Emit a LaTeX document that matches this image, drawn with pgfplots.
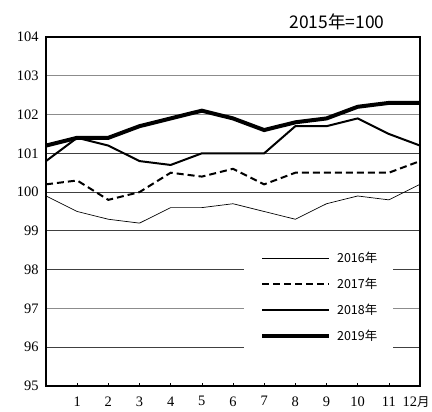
\documentclass[border=0pt]{standalone}
\usepackage{pgfplots}
\pgfplotsset{compat=1.18}
\usepackage{fontspec}
\setmainfont{Liberation Serif}
\newfontfamily\cjk{Noto Sans CJK JP}
\begin{document}
\begin{tikzpicture}
\begin{axis}[
  scale only axis, width=374bp, height=349bp,
  xmin=0, xmax=12, ymin=95, ymax=104,
  ytick={95,96,97,98,99,100,101,102,103,104},
  xtick={1,2,3,4,5,6,7,8,9,10,11,12},
  xticklabels={1,2,3,4,5,6,7,8,9,10,11,{\hspace{-8bp}12{\cjk\fontsize{12.5}{12.5}\selectfont 月}}},
  /pgf/number format/assume math mode=true,
  ticklabel style={font=\fontsize{14.5}{14.5}\selectfont},
  yticklabel style={xshift=-4bp},
  xticklabel style={yshift=-7bp},
  ytick style={draw=none},
  xtick pos=bottom, tick align=inside, major tick length=3bp,
  xtick style={black, line width=0.6bp},
  axis line style={line width=2.6bp},
  axis on top,
  clip=true,
  legend style={at={(axis cs:6.35,98.64)}, anchor=north west, draw=none, fill=white,
    font=\cjk\fontsize{12.5}{12.5}\selectfont, inner xsep=16bp, inner ysep=8bp,
    row sep=16bp, nodes={inner sep=0pt, text height=9bp, text depth=1bp},
    /tikz/every odd column/.append style={column sep=6bp}},
  legend cell align=left,
  legend image code/.code={\draw[#1] (0bp,0bp) -- (67bp,0bp);},
]
\draw[black!45, line width=0.9bp] (axis cs:0,103) -- (axis cs:12,103);
\draw[black!45, line width=0.9bp] (axis cs:0,102) -- (axis cs:12,102);
\draw[black!75, line width=0.9bp] (axis cs:0,101) -- (axis cs:12,101);
\draw[black!75, line width=0.9bp] (axis cs:0,100) -- (axis cs:12,100);
\draw[black!75, line width=0.9bp] (axis cs:0,99) -- (axis cs:12,99);
\draw[black!75, line width=0.9bp] (axis cs:0,98) -- (axis cs:12,98);
\draw[black!45, line width=0.9bp] (axis cs:0,97) -- (axis cs:12,97);
\draw[black!75, line width=0.9bp] (axis cs:0,96) -- (axis cs:12,96);
\addplot[black, line width=0.7bp] coordinates {(0,99.9)(1,99.5)(2,99.3)(3,99.2)(4,99.6)(5,99.6)(6,99.7)(7,99.5)(8,99.3)(9,99.7)(10,99.9)(11,99.8)(12,100.2)};
\addlegendentry{2016年}
\addplot[black, line width=2bp, dash pattern=on 7bp off 4bp] coordinates {(0,100.2)(1,100.3)(2,99.8)(3,100.0)(4,100.5)(5,100.4)(6,100.6)(7,100.2)(8,100.5)(9,100.5)(10,100.5)(11,100.5)(12,100.8)};
\addlegendentry{2017年}
\addplot[black, line width=2bp] coordinates {(0,100.8)(1,101.4)(2,101.2)(3,100.8)(4,100.7)(5,101.0)(6,101.0)(7,101.0)(8,101.7)(9,101.7)(10,101.9)(11,101.5)(12,101.2)};
\addlegendentry{2018年}
\addplot[black, line width=4bp] coordinates {(0,101.2)(1,101.4)(2,101.4)(3,101.7)(4,101.9)(5,102.1)(6,101.9)(7,101.6)(8,101.8)(9,101.9)(10,102.2)(11,102.3)(12,102.3)};
\addlegendentry{2019年}
\end{axis}
\node[font=\cjk\fontsize{17.5}{17.5}\selectfont] at ([yshift=15bp]current axis.north west) [xshift=291bp] {2015年=100};
\pgfresetboundingbox
\path ([shift={(-46bp,-26bp)}]current axis.south west) rectangle ([shift={(12bp,37bp)}]current axis.north east);
\end{tikzpicture}
\end{document}
